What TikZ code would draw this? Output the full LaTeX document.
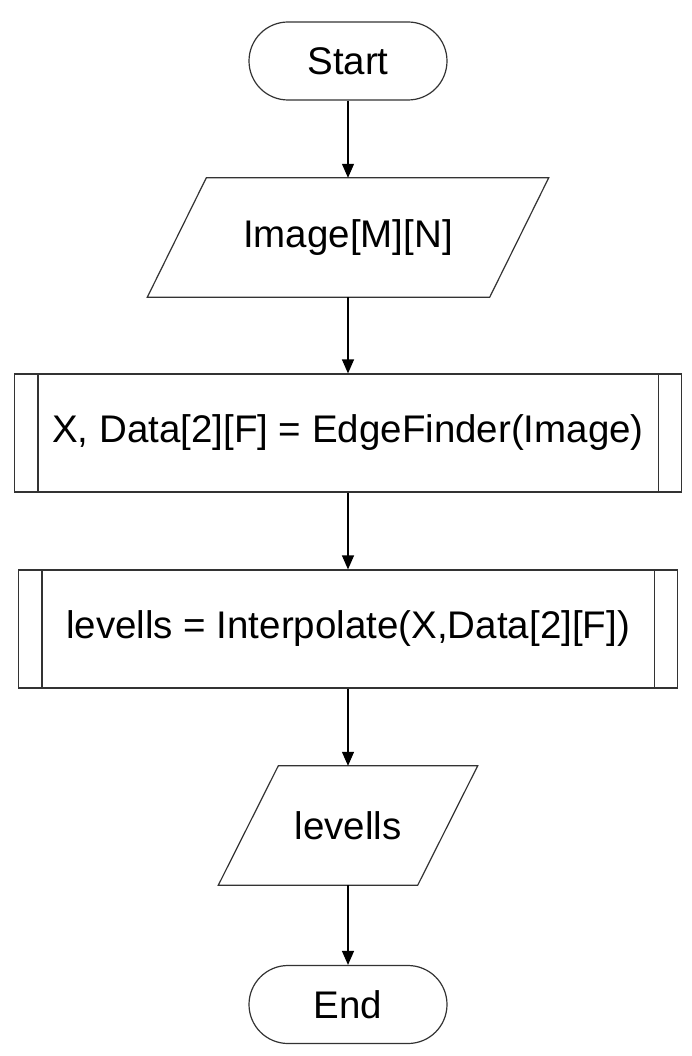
\documentclass[tikz,border=0pt]{standalone}
\usepackage{fontspec}
\setmainfont{Liberation Sans}
\usetikzlibrary{arrows.meta}
\begin{document}
\begin{tikzpicture}[x=1pt,y=-1pt,
  outline/.style={draw=black!80,line width=1.2pt},
  txt/.style={font=\fontsize{38.5}{46}\selectfont,inner sep=0pt,align=center},
  terminal/.style={txt,outline,rounded corners=39pt,minimum width=198pt,minimum height=78pt},
  iobox/.style={txt,minimum height=119pt},
  subproc/.style={txt,outline,minimum height=118pt},
  conn/.style={draw=black,line width=1.2pt,-{Triangle[width=12pt,length=14pt]}}]
\useasboundingbox (0,0) rectangle (692,1056);
\fill[white] (0,0) rectangle (692,1056);

\node[terminal] (start) at (348,61) {Start};
\node[iobox,minimum width=401pt] (img) at (348,237.5) {Image[M][N]};
\node[subproc,minimum width=667pt] (edge) at (348,433) {X, Data[2][F] = EdgeFinder(Image)};
\node[subproc,minimum width=659pt] (interp) at (348,629) {levells = Interpolate(X,Data[2][F])};
\node[iobox,minimum width=259pt] (lev) at (348,825.5) {levells};
\node[terminal] (end) at (348,1004.5) {End};

% parallelogram outlines
\draw[outline] (img.south west) -- ([xshift=59pt]img.north west) -- (img.north east) -- ([xshift=-59pt]img.south east) -- cycle;
\draw[outline] (lev.south west) -- ([xshift=60pt]lev.north west) -- (lev.north east) -- ([xshift=-60pt]lev.south east) -- cycle;

% subprocess inner bars
\draw[outline] ([xshift=24pt]edge.north west) -- ([xshift=24pt]edge.south west);
\draw[outline] ([xshift=-24pt]edge.north east) -- ([xshift=-24pt]edge.south east);
\draw[outline] ([xshift=24pt]interp.north west) -- ([xshift=24pt]interp.south west);
\draw[outline] ([xshift=-24pt]interp.north east) -- ([xshift=-24pt]interp.south east);

% connectors
\draw[conn] (start.south) -- (img.north);
\draw[conn] (img.south) -- (edge.north);
\draw[conn] (edge.south) -- (interp.north);
\draw[conn] (interp.south) -- (lev.north);
\draw[conn] (lev.south) -- (end.north);
\end{tikzpicture}
\end{document}
